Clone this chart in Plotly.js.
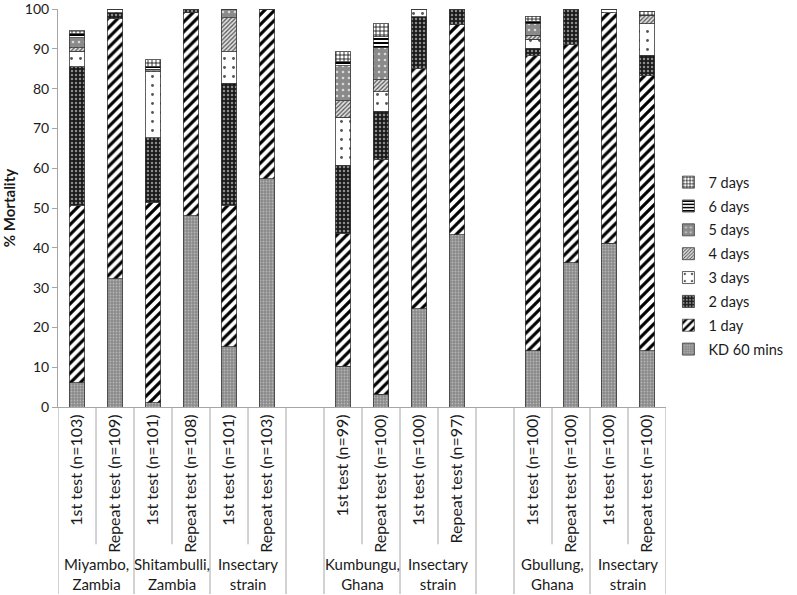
<!DOCTYPE html>
<html>
<head>
<meta charset="utf-8">
<script src="https://cdn.plot.ly/plotly-3.0.1.min.js"></script>
<style>html,body{margin:0;padding:0;background:#fff;}#chart{width:797px;height:595px;}</style>
</head>
<body>
<div id="chart"></div>
<script>
// ---- Data ----
const testLabels = [
  "1st test (n=103)", "Repeat test (n=109)",
  "1st test (n=101)", "Repeat test (n=108)",
  "1st test (n=101)", "Repeat test (n=103)",
  "1st test (n=99)", "Repeat test (n=100)",
  "1st test (n=100)", "Repeat test (n=97)",
  "1st test (n=100)", "Repeat test (n=100)",
  "1st test (n=100)", "Repeat test (n=100)"
];
const groupLabels = [
  "Miyambo,<br>Zambia", "Shitambulli,<br>Zambia", "Insectary<br>strain",
  "Kumbungu,<br>Ghana", "Insectary<br>strain",
  "Gbullung,<br>Ghana", "Insectary<br>strain"
];
const groupSizes = [2, 2, 2, 2, 2, 2, 2];
const gapAfterGroup = [false, false, true, false, true, false, false];

const seriesNames = ["KD 60 mins", "1 day", "2 days", "3 days", "4 days", "5 days", "6 days", "7 days"];
const kd60   = [6.1, 32.2, 1.1, 48.0, 15.1, 57.3, 10.25, 3.2, 24.7, 43.3, 14.1, 36.2, 41.2, 14.1];
const day1   = [44.6, 65.4, 50.4, 51.1, 35.6, 42.7, 33.35, 59.0, 60.4, 52.7, 74.1, 54.9, 57.9, 69.15];
const day2   = [34.8, 1.5, 16.1, 0.9, 30.6, 0, 17.15, 12.05, 12.9, 4.0, 2.0, 8.9, 0, 5.15];
const day3   = [3.9, 0.9, 16.6, 0, 8.0, 0, 12.0, 5.0, 2.0, 0, 2.2, 0, 0.9, 7.9];
const day4   = [0.9, 0, 0, 0, 8.5, 0, 4.15, 2.95, 0, 0, 1.0, 0, 0, 2.1];
const day5   = [2.5, 0, 0.7, 0, 2.2, 0, 8.8, 8.1, 0, 0, 2.9, 0, 0, 0];
const day6   = [1.0, 0, 0.6, 0, 0, 0, 1.05, 2.7, 0, 0, 0.6, 0, 0, 0];
const day7   = [0.7, 0, 1.7, 0, 0, 0, 2.5, 3.3, 0, 0, 1.3, 0, 0, 1.0];
const seriesValues = [kd60, day1, day2, day3, day4, day5, day6, day7];
const yTickVals = [0, 10, 20, 30, 40, 50, 60, 70, 80, 90, 100];

// ---- Styles ----
const patterns = [
  {shape: ".", bgcolor: "#8a8a8a", fgcolor: "#b5b5b5", size: 3, solidity: 0.3},
  {shape: "/", bgcolor: "#ffffff", fgcolor: "#000000", size: 7, solidity: 0.45},
  {shape: ".", bgcolor: "#1a1a1a", fgcolor: "#8a8a8a", size: 4, solidity: 0.3},
  {shape: ".", bgcolor: "#ffffff", fgcolor: "#555555", size: 9, solidity: 0.08},
  {shape: "/", bgcolor: "#e0e0e0", fgcolor: "#555555", size: 3, solidity: 0.4},
  {shape: ".", bgcolor: "#8a8a8a", fgcolor: "#d8d8d8", size: 6, solidity: 0.15},
  {shape: "-", bgcolor: "#ffffff", fgcolor: "#000000", size: 4, solidity: 0.5},
  {shape: "+", bgcolor: "#ffffff", fgcolor: "#000000", size: 4, solidity: 0.35}
];

// ---- Positions ----
const xPos = [];
const groupCenters = [];
const longSeps = [];
const shortSeps = [];
let pos = 0;
groupSizes.forEach((n, g) => {
  const start = pos;
  longSeps.push(start - 0.5);
  for (let i = 0; i < n; i++) {
    xPos.push(pos);
    if (i > 0) shortSeps.push(pos - 0.5);
    pos++;
  }
  longSeps.push(pos - 0.5);
  groupCenters.push((start + pos - 1) / 2);
  if (gapAfterGroup[g]) pos++;
});
const nSlots = pos;

const font = "Lato, 'Open Sans', sans-serif";
const traces = seriesNames.map((name, i) => ({
  type: "bar",
  name: name,
  x: xPos,
  y: seriesValues[i],
  width: 0.4,
  legendgroup: "g" + i,
  legendrank: 1000 - i * 10,
  marker: {
    color: patterns[i].bgcolor,
    pattern: patterns[i],
    line: {color: "#3a3a3a", width: 0.8}
  },
  hoverinfo: "name+y"
}));

const shapes = [];
const uniqLong = [...new Set(longSeps)];
uniqLong.forEach(x => shapes.push({type: "line", xref: "x", yref: "paper", x0: x, x1: x, y0: 0, y1: -0.47, line: {color: "#a6a6a6", width: 1}}));
shortSeps.forEach(x => shapes.push({type: "line", xref: "x", yref: "paper", x0: x, x1: x, y0: 0, y1: -0.345, line: {color: "#a6a6a6", width: 1}}));

const annotations = groupLabels.map((t, g) => ({
  text: t, x: groupCenters[g], xref: "x", y: -0.42, yref: "paper",
  showarrow: false, xanchor: "center", yanchor: "middle",
  font: {family: font, size: 15, color: "#1a1a1a"}, align: "center"
}));

const layout = {
  width: 797, height: 595,
  margin: {l: 58, r: 99, t: 9, b: 188},
  barmode: "stack",
  paper_bgcolor: "#ffffff", plot_bgcolor: "#ffffff",
  font: {family: font, size: 15, color: "#1a1a1a"},
  showlegend: true,
  legend: {
    traceorder: "grouped", x: 1.004, xanchor: "left", y: 0.355, yanchor: "middle",
    font: {family: font, size: 14.5, color: "#1a1a1a"}, tracegroupgap: 2,
    bgcolor: "rgba(0,0,0,0)"
  },
  xaxis: {
    range: [-0.5, nSlots - 0.5], tickmode: "array", tickvals: xPos, ticktext: testLabels,
    tickangle: -90, ticks: "", showgrid: false, zeroline: false,
    showline: true, linecolor: "#a6a6a6", linewidth: 1,
    tickfont: {family: font, size: 16, color: "#1a1a1a"}
  },
  yaxis: {
    range: [0, 100], tickmode: "array", tickvals: yTickVals, ticklabeloverflow: "allow",
    ticks: "outside", ticklen: 5, tickcolor: "#a6a6a6",
    showline: true, linecolor: "#a6a6a6", linewidth: 1, showgrid: false, zeroline: false,
    tickfont: {family: font, size: 14, color: "#1a1a1a"},
    title: {text: "<b>% Mortality</b>", font: {family: font, size: 15, color: "#1a1a1a", weight: 700}, standoff: 10}
  },
  shapes: shapes,
  annotations: annotations
};

Plotly.newPlot("chart", traces, layout, {displayModeBar: false, staticPlot: true});
</script>
</body>
</html>
